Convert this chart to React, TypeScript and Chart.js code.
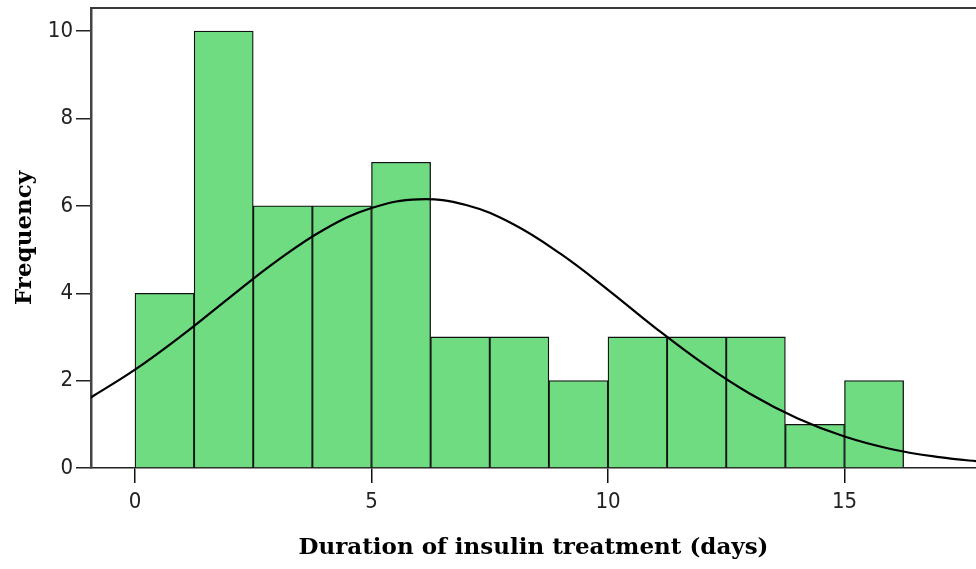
import React, { useEffect, useRef } from "react";
import { Chart, registerables } from "chart.js";

Chart.register(...registerables);

// Histogram bins: first bin starts at 0, each bin is 1.25 days wide
const binStart = 0;
const binWidth = 1.25;
const frequencies = [4, 10, 6, 6, 7, 3, 3, 2, 3, 3, 3, 1, 2];

// Normal curve overlay, sampled at whole days
const curveX = [-1, 0, 1, 2, 3, 4, 5, 6, 7, 8, 9, 10, 11, 12, 13, 14, 15, 16, 17, 18];
const curveY = [1.57, 2.25, 3.04, 3.9, 4.74, 5.46, 5.95, 6.15, 6.02, 5.58, 4.9, 4.08, 3.21, 2.4, 1.7, 1.14, 0.72, 0.43, 0.25, 0.13];

const xTicks = [0, 5, 10, 15];
const yTicks = [0, 2, 4, 6, 8, 10];

const xTitle = "Duration of insulin treatment (days)";
const yTitle = "Frequency";

const tickFont = { family: "'DejaVu Sans Condensed', 'Liberation Sans Narrow', 'Liberation Sans', sans-serif", size: 22 };
const titleFont = { family: "'DejaVu Serif', 'Liberation Serif', serif", size: 23, weight: "bold" as const };

const topBorder = {
  id: "topBorder",
  afterDraw(chart: any) {
    const { ctx, chartArea } = chart;
    ctx.save();
    ctx.strokeStyle = "#3a3a3a";
    ctx.lineWidth = 2;
    ctx.beginPath();
    ctx.moveTo(chartArea.left - 1, chartArea.top);
    ctx.lineTo(chartArea.right, chartArea.top);
    ctx.stroke();
    ctx.restore();
  },
};

export default function App() {
  const canvasRef = useRef<HTMLCanvasElement | null>(null);

  useEffect(() => {
    document.body.style.margin = "0";
    const canvas = canvasRef.current;
    if (!canvas) return;

    const barData = frequencies.map((f, i) => ({ x: binStart + binWidth * (i + 0.5), y: f }));
    const lineData = curveX.map((x, i) => ({ x, y: curveY[i] }));

    const chart = new Chart(canvas, {
      type: "bar",
      data: {
        datasets: [
          {
            type: "line",
            data: lineData,
            borderColor: "#000",
            borderWidth: 2.2,
            pointRadius: 0,
            tension: 0.4,
            fill: false,
            order: 0,
          } as any,
          {
            type: "bar",
            data: barData,
            backgroundColor: "#70dc82",
            borderColor: "#111",
            borderWidth: 1.3,
            barPercentage: 1,
            categoryPercentage: 1,
            order: 1,
          } as any,
        ],
      },
      options: {
        responsive: false,
        animation: false,
        layout: { padding: { top: 8, right: 0, left: 0, bottom: 0 } },
        plugins: {
          legend: { display: false },
          tooltip: { enabled: false },
        },
        scales: {
          x: {
            type: "linear",
            min: -0.93,
            max: 17.78,
            offset: false,
            afterFit: (s: any) => {
              s.height = 101;
              s.paddingLeft = 0;
              s.paddingRight = 0;
            },
            afterBuildTicks: (s: any) => {
              s.ticks = xTicks.map((v) => ({ value: v }));
            },
            grid: {
              offset: false,
              drawOnChartArea: false,
              drawTicks: true,
              tickLength: 15,
              color: "#111",
              lineWidth: 1.5,
            },
            border: { display: true, color: "#222", width: 1.5 },
            ticks: {
              font: tickFont,
              color: "#222",
              padding: 6,
              maxRotation: 0,
              callback: (v: any) => String(v),
            },
            title: {
              display: true,
              text: xTitle,
              font: titleFont,
              color: "#000",
              padding: { top: 0, bottom: 7 },
            },
          },
          y: {
            type: "linear",
            min: 0,
            max: 10.53,
            afterFit: (s: any) => {
              s.width = 91;
              s.paddingTop = 0;
              s.paddingBottom = 0;
            },
            afterBuildTicks: (s: any) => {
              s.ticks = yTicks.map((v) => ({ value: v }));
            },
            grid: {
              drawOnChartArea: false,
              drawTicks: true,
              tickLength: 15,
              color: "#222",
              lineWidth: 1.5,
            },
            border: { display: true, color: "#444", width: 2.5 },
            ticks: {
              font: tickFont,
              color: "#222",
              padding: 3,
              callback: (v: any) => String(v),
            },
            title: {
              display: true,
              text: yTitle,
              font: titleFont,
              color: "#000",
              padding: { top: 11, bottom: 0 },
            },
          },
        },
      },
      plugins: [topBorder],
    });

    return () => chart.destroy();
  }, []);

  return (
    <div style={{ width: 976, height: 569, background: "#fff" }}>
      <canvas ref={canvasRef} width={976} height={569} />
    </div>
  );
}
